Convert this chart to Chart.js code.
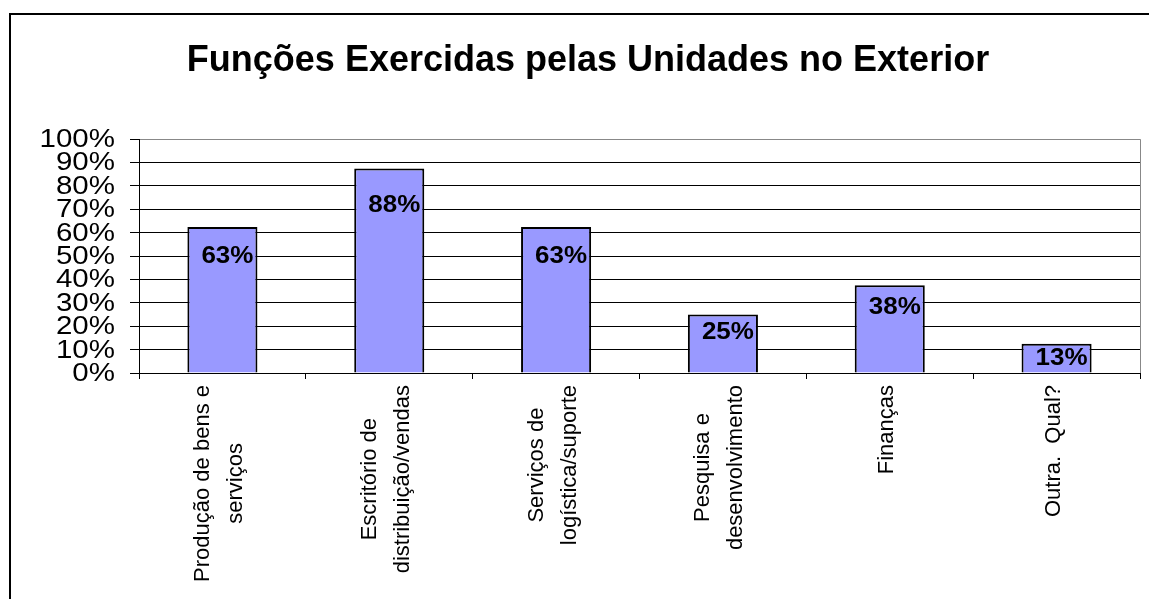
<!DOCTYPE html>
<html>
<head>
<meta charset="utf-8">
<script src="https://cdn.jsdelivr.net/npm/chart.js@4/dist/chart.umd.min.js"></script>
<style>
  html, body { margin: 0; padding: 0; background: #fff; overflow: hidden; }
  #frame { position: absolute; left: 9px; top: 13px; width: 1300px; height: 800px; border: 2px solid #000; }
  #chart { position: absolute; left: 0; top: 0; }
</style>
</head>
<body>
<div id="frame"></div>
<canvas id="chart" width="1149" height="599"></canvas>
<script>
const titleText = 'Funções Exercidas pelas Unidades no Exterior';
const categories = [
    ['Produção de bens e', 'serviços'],
    ['Escritório de', 'distribuição/vendas'],
    ['Serviços de', 'logística/suporte'],
    ['Pesquisa e', 'desenvolvimento'],
    ['Finanças'],
    ['Outra.  Qual?']
];
const values = [62.5, 87.5, 62.5, 25, 37.5, 12.5];
const yTicks = [0, 10, 20, 30, 40, 50, 60, 70, 80, 90, 100];

const FONT = '"Liberation Sans", Arial, sans-serif';

// text in the original is a bit wider than the font metrics, so stretch it
function wideText(ctx, text, x, y, sx, align) {
    ctx.save();
    ctx.translate(x, y);
    ctx.scale(sx, 1);
    ctx.textAlign = align;
    ctx.fillText(text, 0, 0);
    ctx.restore();
}

// value labels inside the bars, near the top
const barLabels = {
    id: 'barLabels',
    afterDatasetsDraw(chart) {
        const ctx = chart.ctx;
        const meta = chart.getDatasetMeta(0);
        ctx.save();
        ctx.font = 'bold 23px ' + FONT;
        ctx.fillStyle = '#000';
        ctx.textBaseline = 'middle';
        meta.data.forEach((bar, i) => {
            const h = bar.base - bar.y;
            wideText(ctx, Math.round(values[i]) + '%', bar.x + 5, bar.y + 11 + 0.13 * h, 1.13, 'center');
        });
        ctx.restore();
    }
};

// y tick labels, category labels and the grey plot edge
const axisText = {
    id: 'axisText',
    afterDraw(chart) {
        const ctx = chart.ctx;
        const x = chart.scales.x;
        const y = chart.scales.y;
        const area = chart.chartArea;
        ctx.save();
        ctx.strokeStyle = '#888';
        ctx.lineWidth = 1;
        ctx.beginPath();
        ctx.moveTo(area.right + 0.5, area.top);
        ctx.lineTo(area.right + 0.5, area.bottom);
        ctx.stroke();

        ctx.fillStyle = '#000';
        ctx.textBaseline = 'middle';
        ctx.font = '25px ' + FONT;
        yTicks.forEach(v => {
            wideText(ctx, v + '%', area.left - 24, y.getPixelForValue(v) + 1, 1.18, 'right');
        });

        ctx.font = '22px ' + FONT;
        ctx.textAlign = 'center';
        categories.forEach((lines, i) => {
            const maxW = Math.max(...lines.map(l => ctx.measureText(l).width));
            const cx = x.getPixelForValue(i) - 3;
            const cy = area.bottom + 12 + maxW / 2;
            ctx.save();
            ctx.translate(cx, cy);
            ctx.rotate(-Math.PI / 2);
            lines.forEach((l, j) => {
                ctx.fillText(l, 0, (j - (lines.length - 1) / 2) * 33);
            });
            ctx.restore();
        });
        ctx.restore();
    }
};

new Chart(document.getElementById('chart'), {
    type: 'bar',
    data: {
        labels: categories,
        datasets: [{
            data: values,
            backgroundColor: '#9999ff',
            borderColor: '#000',
            borderWidth: 2,
            categoryPercentage: 1,
            barPercentage: 0.42
        }]
    },
    options: {
        responsive: false,
        animation: false,
        devicePixelRatio: 1,
        layout: { padding: { left: 36, right: 9, top: 0, bottom: 0 } },
        plugins: {
            legend: { display: false },
            tooltip: { enabled: false },
            title: {
                display: true,
                text: titleText,
                color: '#000',
                font: { family: FONT, size: 36, weight: 'bold' },
                padding: { top: 39, bottom: 57 }
            }
        },
        scales: {
            x: {
                offset: true,
                grid: { drawOnChartArea: false, color: '#000', tickLength: 6 },
                border: { color: '#000', width: 1 },
                ticks: { display: false },
                afterFit: s => { s.height = 226; }
            },
            y: {
                min: 0,
                max: 100,
                afterBuildTicks: s => { s.ticks = yTicks.map(v => ({ value: v })); },
                grid: {
                    color: c => (c.tick && c.tick.value === 100 ? '#888' : '#000'),
                    tickColor: '#000',
                    tickLength: 9
                },
                border: { color: '#000', width: 1 },
                ticks: { display: false, autoSkip: false },
                afterFit: s => { s.width = 103; }
            }
        }
    },
    plugins: [barLabels, axisText]
});
</script>
</body>
</html>
